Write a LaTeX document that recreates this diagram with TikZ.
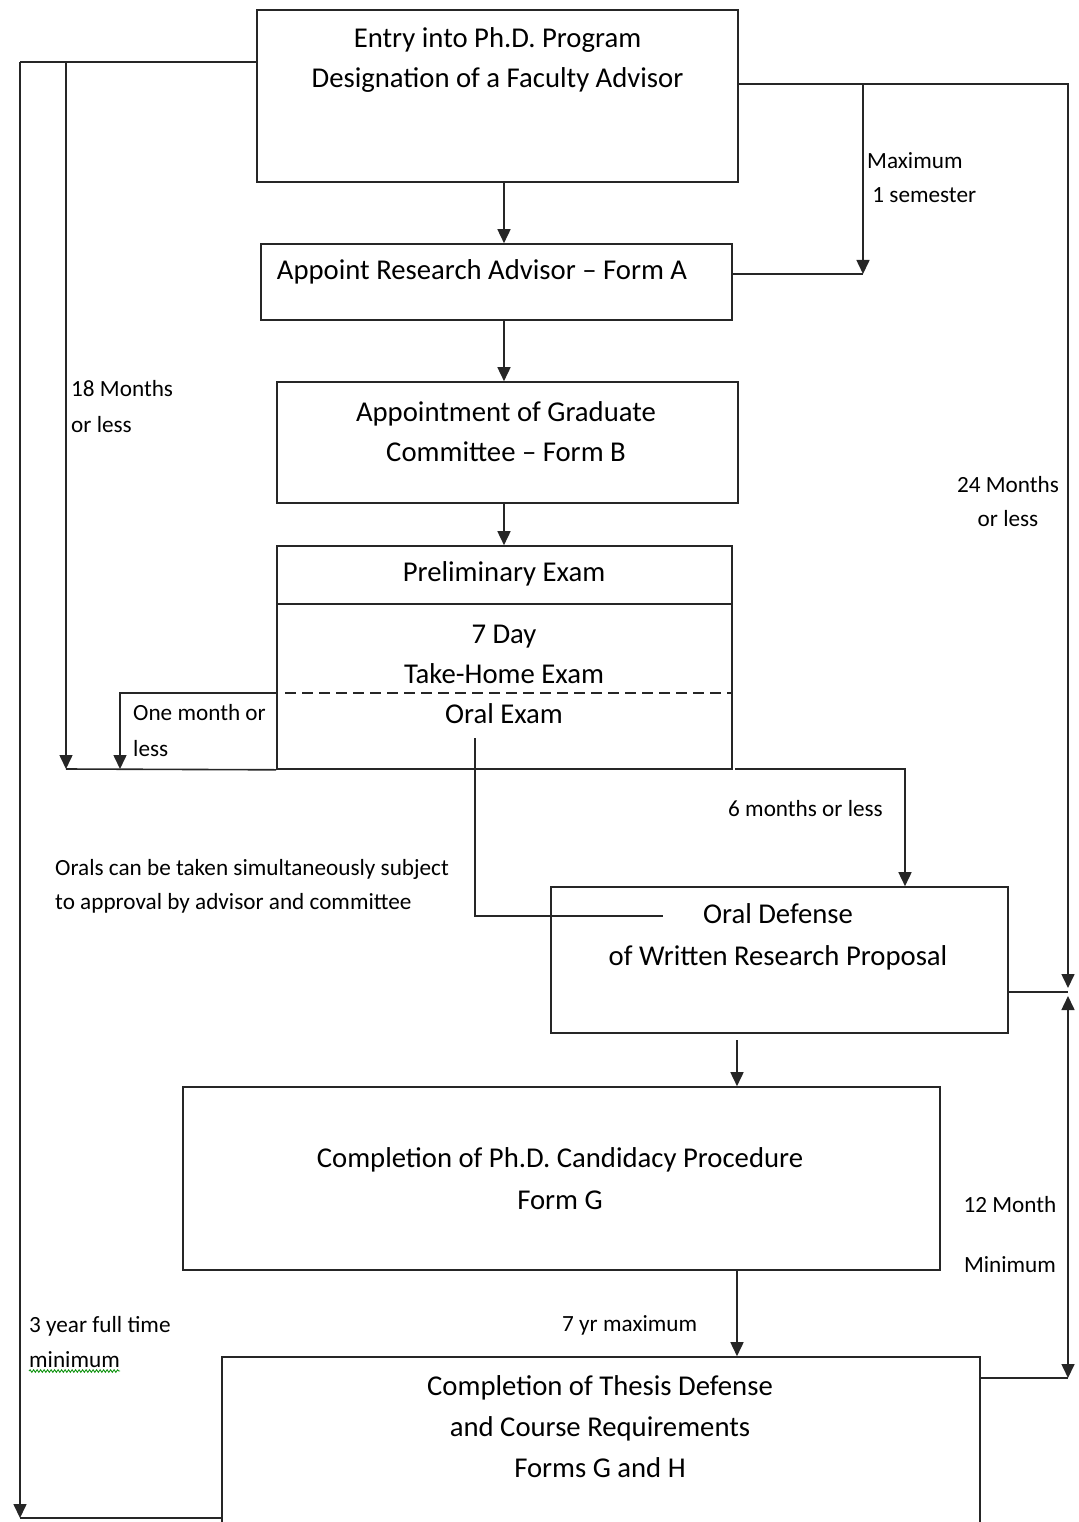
\documentclass[tikz,border=0pt]{standalone}
\usepackage{fontspec}
\setmainfont{Carlito}
\usetikzlibrary{arrows.meta,decorations.pathmorphing}
\begin{document}
\begin{tikzpicture}[x=1pt,y=-1pt,
  box/.style={draw=black!85,line width=1.6pt,inner sep=0pt},
  btxt/.style={align=center,inner sep=0pt,font=\fontsize{28.7}{40}\selectfont},
  lbl/.style={align=left,inner sep=0pt,anchor=west,font=\fontsize{23.2}{35}\selectfont},
  ln/.style={draw=black!85,line width=1.6pt},
  arr/.style={ln,-{Triangle[length=14pt,width=13pt]}},
  arrboth/.style={ln,{Triangle[length=14pt,width=13pt]}-{Triangle[length=14pt,width=13pt]}}]
\useasboundingbox (0,0) rectangle (1078,1522);
% boxes
\node[box,minimum width=481pt,minimum height=172pt] (b1) at (497.5,96) {};
\node[box,minimum width=471pt,minimum height=76pt] (b2) at (496.5,282) {};
\node[box,minimum width=461pt,minimum height=121pt] (b3) at (507.5,442.5) {};
\node[box,minimum width=455pt,minimum height=223pt] (b4) at (504.5,657.5) {};
\node[box,minimum width=457pt,minimum height=146pt] (b5) at (779.5,960) {};
\node[box,minimum width=757pt,minimum height=183pt] (b6) at (561.5,1178.5) {};
\node[box,minimum width=758pt,minimum height=166pt] (b7) at (601,1440) {};
% box texts
\node[btxt] (t1) at (497.5,60) {Entry into Ph.D. Program\\Designation of a Faculty Advisor};
\node[btxt] (t2) at (482,272) {Appoint Research Advisor -- Form A};
\node[btxt] (t3) at (506,432) {Appointment of Graduate\\Committee -- Form B};
\node[btxt] (t4a) at (504,574) {Preliminary Exam};
\node[btxt] (t4b) at (504,654) {7 Day\\Take-Home Exam};
\node[btxt] (t4c) at (504,714) {Oral Exam};
\node[btxt,font=\fontsize{28.7}{42}\selectfont] (t5) at (778,937) {Oral Defense\\of Written Research Proposal};
\node[btxt,font=\fontsize{28.7}{42}\selectfont] (t6) at (560,1179) {Completion of Ph.D. Candidacy Procedure\\Form G};
\node[btxt,font=\fontsize{28.7}{41}\selectfont] (t7) at (600,1427) {Completion of Thesis Defense\\and Course Requirements\\Forms G and H};
% inner lines of preliminary exam box
\draw[ln] (b4.west |- 0,604) -- (b4.east |- 0,604);
\draw[ln,dashed,dash pattern=on 11pt off 6pt] (285,693) -- (b4.east |- 0,693);
% labels
\node[lbl,font=\fontsize{23.2}{34}\selectfont] (l1) at (867,178) {Maximum\\\ 1 semester};
\node[lbl,font=\fontsize{23.2}{36}\selectfont] (l2) at (71,407) {18 Months\\or less};
\node[lbl,align=center,anchor=center,font=\fontsize{23.2}{34}\selectfont] (l3) at (1008,502) {24 Months\\or less};
\node[lbl,font=\fontsize{23.2}{36}\selectfont] (l4) at (133,731) {One month or\\less};
\node[lbl] (l5) at (728,809) {6 months or less};
\node[lbl,font=\fontsize{23.2}{34}\selectfont] (l6) at (55,886) {Orals can be taken simultaneously subject\\to approval by advisor and committee};
\node[lbl,align=center,anchor=center,font=\fontsize{23.2}{60}\selectfont] (l7) at (1010,1235) {12 Month\\Minimum};
\node[lbl] (l8) at (562,1325) {7 yr maximum};
\node[lbl,font=\fontsize{23.2}{35}\selectfont] (l9) at (29,1342) {3 year full time\\minimum};
\draw[green!55!black,line width=0.8pt,decorate,decoration={snake,amplitude=1.3pt,segment length=3.5pt}] (29,1371) -- (120,1371);
% coordinates
\coordinate (L1) at (20,62); \coordinate (L2) at (20,1518);
\coordinate (M1) at (66,62); \coordinate (M2) at (66,769);
\coordinate (O1) at (120,693); \coordinate (O2) at (120,769);
\coordinate (P1) at (475,738); \coordinate (P2) at (475,916); \coordinate (P3) at (663,916);
\coordinate (S1) at (735,769); \coordinate (S2) at (905,769);
\coordinate (R1) at (1068,84); \coordinate (R2) at (1068,988);
\coordinate (Q1) at (863,84); \coordinate (Q2) at (863,274);
\coordinate (T1) at (1068,992); \coordinate (T3) at (1068,996); \coordinate (T2) at (1068,1378);
\coordinate (U1) at (737,1040); \coordinate (V) at (504,0);
% connectors
\draw[ln] (b1.west |- L1) -- (L1);
\draw[arr] (L1) -- (L2);
\draw[ln] (b7.west |- L2) -- (L2);
\draw[arr] (M1) -- (M2);
\draw[ln] (b4.south west) -- (M2);
\draw[arr] (b4.west |- O1) -- (O1) -- (O2);
\draw[ln] (P1) -- (P2) -- (P3);
\draw[arr] (S1) -- (S2) -- (b5.north -| S2);
\draw[arr] (b1.east |- R1) -- (R1) -- (R2);
\draw[arr] (Q1) -- (Q2);
\draw[ln] (b2.east |- Q2) -- (Q2);
\draw[ln] (b5.east |- T1) -- (T1);
\draw[arrboth] (T3) -- (T2);
\draw[ln] (b7.east |- T2) -- (T2);
\draw[arr] (b1.south -| V) -- (b2.north -| V);
\draw[arr] (b2.south -| V) -- (b3.north -| V);
\draw[arr] (b3.south -| V) -- (b4.north -| V);
\draw[arr] (U1) -- (b6.north -| U1);
\draw[arr] (b6.south -| U1) -- (b7.north -| U1);
\end{tikzpicture}
\end{document}
